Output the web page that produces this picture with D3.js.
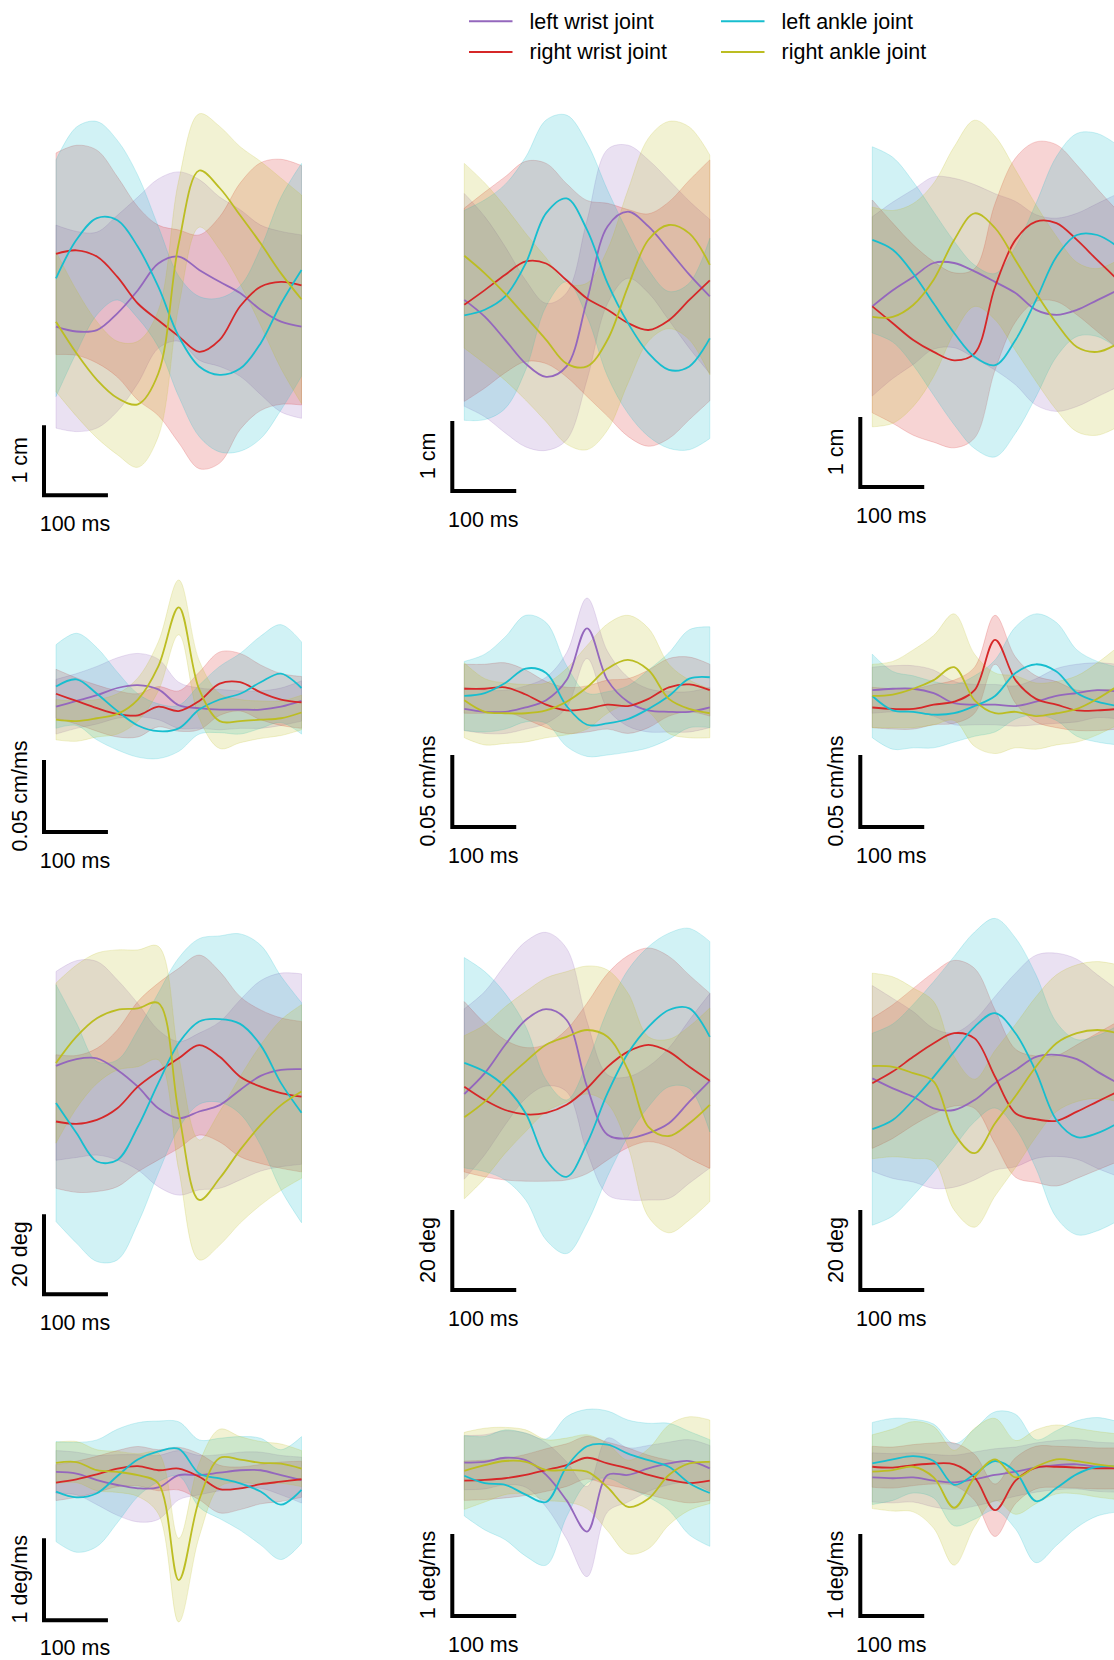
<!DOCTYPE html>
<html><head><meta charset="utf-8">
<script src="https://cdn.jsdelivr.net/npm/d3@7"></script>
<style>html,body{margin:0;padding:0;background:#fff;overflow:hidden}</style>
</head><body><svg id="c" width="1114" height="1660"></svg>
<script>
// ---------------- DATA ----------------
const timeMs = [0,32,64,96,128,160,192,224,256,288,320,352,384];
const joints = ["left wrist joint","right wrist joint","left ankle joint","right ankle joint"];
const barValues = [1, 0.05, 20, 1];
const barLabels = ["1 cm","0.05 cm/ms","20 deg","1 deg/ms"];
const timeBarMs = 100;
const timeBarLabel = "100 ms";

// Row 1: position (cm), means and SDs per joint [lw, rw, la, ra]
const posMeanA = [
  [2.41,2.34,2.36,2.60,2.93,3.31,3.41,3.22,3.05,2.89,2.65,2.48,2.41],
  [3.45,3.50,3.41,3.12,2.74,2.50,2.27,2.05,2.22,2.70,2.98,3.05,3.00],
  [3.10,3.65,3.96,3.93,3.55,2.98,2.27,1.84,1.72,1.81,2.17,2.74,3.22],
  [2.48,2.03,1.65,1.39,1.30,1.74,3.60,4.64,4.39,4.00,3.60,3.17,2.80]];
const posSdA = [
  [1.45,1.43,1.40,1.40,1.33,1.21,1.21,1.29,1.21,1.19,1.21,1.29,1.31],
  [1.44,1.50,1.52,1.43,1.38,1.36,1.52,1.67,1.76,1.76,1.77,1.75,1.71],
  [1.69,1.61,1.38,1.14,1.02,0.86,0.86,1.00,1.10,1.18,1.36,1.52,1.52],
  [1.00,0.90,0.83,0.81,0.90,0.90,0.90,0.81,0.88,0.98,1.17,1.36,1.49]];
const posMeanB = [
  [2.73,2.49,2.16,1.82,1.63,1.78,2.73,3.78,3.99,3.78,3.44,3.09,2.78],
  [2.66,2.87,3.09,3.28,3.25,3.01,2.75,2.59,2.40,2.30,2.44,2.73,3.01],
  [2.51,2.59,2.78,3.25,3.97,4.18,3.73,2.97,2.40,1.97,1.73,1.78,2.18],
  [3.36,3.11,2.82,2.49,2.16,1.82,1.78,2.16,2.92,3.59,3.80,3.68,3.23]];
const posSdB = [
  [1.52,1.43,1.33,1.19,1.05,1.05,1.14,1.10,0.95,0.95,1.00,1.05,1.10],
  [1.38,1.40,1.40,1.43,1.43,1.38,1.40,1.52,1.62,1.66,1.69,1.71,1.72],
  [1.50,1.57,1.60,1.52,1.33,1.19,1.24,1.33,1.29,1.19,1.12,1.19,1.43],
  [1.32,1.29,1.24,1.19,1.17,1.15,1.19,1.29,1.38,1.45,1.48,1.52,1.57]];
const posMeanC = [
  [2.58,2.81,3.00,3.20,3.20,3.08,2.93,2.77,2.53,2.46,2.53,2.67,2.81],
  [2.58,2.34,2.10,1.93,1.81,1.91,2.86,3.53,3.79,3.77,3.53,3.24,2.96],
  [3.53,3.39,3.05,2.62,2.20,1.86,1.74,2.10,2.67,3.29,3.60,3.60,3.43],
  [2.43,2.43,2.60,2.96,3.53,3.91,3.70,3.24,2.77,2.34,2.00,1.93,2.05]];
const posSdC = [
  [1.28,1.26,1.25,1.23,1.21,1.24,1.26,1.31,1.36,1.38,1.38,1.38,1.38],
  [1.52,1.43,1.36,1.29,1.25,1.21,1.19,1.17,1.14,1.12,1.07,1.02,0.98],
  [1.33,1.32,1.31,1.31,1.31,1.31,1.31,1.33,1.38,1.43,1.45,1.45,1.45],
  [1.57,1.52,1.45,1.38,1.33,1.33,1.31,1.29,1.26,1.24,1.21,1.19,1.19]];

// Row 2: velocity (cm/ms)
const velMeanA = [
  [0.087,0.091,0.095,0.100,0.102,0.099,0.088,0.086,0.085,0.085,0.085,0.087,0.091],
  [0.096,0.091,0.086,0.082,0.081,0.087,0.084,0.091,0.103,0.104,0.097,0.092,0.090],
  [0.101,0.106,0.096,0.084,0.074,0.070,0.072,0.085,0.092,0.096,0.104,0.110,0.100],
  [0.078,0.077,0.079,0.082,0.092,0.115,0.156,0.099,0.077,0.077,0.078,0.079,0.083]];
const velSdA = [
  [0.019,0.019,0.020,0.021,0.022,0.021,0.016,0.014,0.014,0.013,0.013,0.013,0.014],
  [0.017,0.016,0.016,0.016,0.015,0.014,0.014,0.020,0.022,0.020,0.019,0.018,0.018],
  [0.029,0.032,0.032,0.027,0.022,0.019,0.016,0.017,0.023,0.028,0.032,0.034,0.032],
  [0.014,0.014,0.013,0.014,0.015,0.017,0.019,0.020,0.019,0.015,0.013,0.012,0.012]];
const velMeanB = [
  [0.082,0.080,0.080,0.083,0.088,0.102,0.138,0.102,0.087,0.081,0.080,0.080,0.083],
  [0.096,0.096,0.097,0.092,0.085,0.081,0.082,0.085,0.084,0.089,0.097,0.099,0.095],
  [0.091,0.093,0.100,0.110,0.107,0.084,0.071,0.072,0.075,0.082,0.091,0.103,0.104],
  [0.088,0.080,0.079,0.079,0.081,0.087,0.097,0.110,0.116,0.109,0.089,0.082,0.079]];
const velSdB = [
  [0.015,0.015,0.015,0.015,0.016,0.019,0.021,0.020,0.017,0.015,0.014,0.014,0.014],
  [0.017,0.017,0.017,0.017,0.016,0.016,0.016,0.017,0.019,0.020,0.020,0.019,0.018],
  [0.024,0.027,0.032,0.037,0.035,0.028,0.022,0.022,0.023,0.027,0.030,0.034,0.035],
  [0.026,0.023,0.021,0.020,0.019,0.023,0.029,0.031,0.031,0.029,0.024,0.020,0.017]];
const velMeanC = [
  [0.095,0.096,0.096,0.093,0.086,0.085,0.085,0.084,0.087,0.091,0.093,0.095,0.094],
  [0.083,0.082,0.082,0.085,0.087,0.095,0.130,0.102,0.089,0.085,0.081,0.081,0.082],
  [0.091,0.081,0.080,0.078,0.079,0.084,0.091,0.107,0.113,0.108,0.093,0.087,0.084],
  [0.091,0.092,0.096,0.102,0.111,0.088,0.079,0.080,0.077,0.079,0.082,0.089,0.098]];
const velSdC = [
  [0.016,0.016,0.016,0.016,0.015,0.014,0.014,0.014,0.016,0.019,0.020,0.019,0.019],
  [0.014,0.014,0.014,0.014,0.015,0.016,0.017,0.016,0.016,0.016,0.014,0.014,0.014],
  [0.029,0.027,0.025,0.023,0.020,0.021,0.025,0.032,0.035,0.034,0.030,0.028,0.027],
  [0.022,0.023,0.027,0.031,0.037,0.032,0.028,0.025,0.023,0.022,0.023,0.025,0.027]];

// Row 3: joint angle (deg)
const angMeanA = [
  [57.1,58.8,59.0,56.1,51.9,46.5,44.0,45.7,47.3,51.1,54.6,56.1,56.3],
  [43.2,42.6,43.6,46.5,51.9,55.7,59.0,62.3,59.4,54.4,51.9,50.3,49.4],
  [47.8,40.3,33.2,33.6,41.9,52.8,62.8,68.2,68.8,67.6,62.3,52.8,45.4],
  [57.8,64.4,69.0,71.1,71.5,72.8,45.3,23.6,29.0,36.1,42.3,47.3,50.7]];
const angSdA = [
  [23.6,24.6,24.2,22.5,20.8,19.6,19.2,19.6,20.8,22.5,23.8,24.2,23.8],
  [16.7,17.1,17.9,19.6,21.3,22.1,22.5,22.5,21.3,20.0,19.2,18.8,18.8],
  [29.6,27.5,25.0,25.0,24.2,22.5,21.3,20.7,20.8,22.5,25.0,26.7,27.5],
  [20.0,17.9,16.3,15.0,14.6,14.2,14.2,15.0,16.7,18.3,20.0,21.3,21.7]];
const angMeanB = [
  [49.0,54.2,61.3,67.5,70.2,67.5,50.8,38.8,37.9,39.2,41.7,47.1,52.3],
  [50.8,47.5,45.0,43.9,44.3,46.3,50.4,55.8,59.6,61.3,59.6,55.8,52.3],
  [56.8,54.6,50.8,44.2,32.5,28.3,36.7,49.2,59.2,65.8,70.0,70.4,63.3],
  [43.2,47.1,52.5,57.1,61.3,63.3,65.0,63.3,55.0,40.8,38.5,41.7,46.3]];
const angSdB = [
  [21.3,20.4,20.0,19.6,19.2,17.9,16.3,15.0,15.4,16.7,18.8,20.4,21.8],
  [21.3,19.2,17.5,16.7,17.1,18.8,21.3,23.3,24.0,24.2,23.8,22.9,21.9],
  [26.3,25.0,23.3,21.7,20.0,19.2,20.0,20.8,20.8,20.0,19.2,20.0,23.8],
  [20.4,19.2,18.3,17.5,16.7,16.3,16.0,16.7,19.2,22.5,24.2,24.2,24.2]];
const angMeanC = [
  [52.9,50.4,48.3,45.4,45.0,47.5,51.7,55.0,58.3,58.8,57.7,54.6,51.7],
  [51.7,54.6,58.3,61.7,64.2,62.9,53.3,44.2,42.7,42.3,44.6,47.1,49.6],
  [40.2,42.5,47.5,53.3,59.6,65.8,69.2,64.2,54.6,42.5,38.2,39.2,41.7],
  [56.0,55.8,54.2,52.1,39.2,34.2,41.7,48.5,55.8,61.7,64.2,65.0,64.2]];
const angSdC = [
  [23.2,22.5,21.3,20.0,19.3,20.0,21.7,24.2,25.4,25.4,25.0,24.2,23.3],
  [16.3,16.7,17.1,17.7,18.2,17.5,16.7,16.0,15.8,16.3,16.7,17.1,17.5],
  [24.0,24.0,23.9,23.8,23.8,23.7,23.7,23.8,24.2,24.4,24.4,24.4,24.4],
  [23.2,22.5,21.3,20.0,19.2,18.5,18.2,17.9,17.5,17.1,17.1,17.1,17.1]];

// Row 4: angular velocity (deg/ms)
const angVelMeanA = [
  [1.81,1.79,1.71,1.65,1.61,1.62,1.77,1.77,1.80,1.83,1.83,1.77,1.71],
  [1.68,1.72,1.78,1.85,1.88,1.83,1.85,1.75,1.60,1.61,1.66,1.69,1.72],
  [1.57,1.50,1.55,1.76,1.96,2.06,2.09,1.79,1.73,1.67,1.57,1.41,1.59],
  [1.92,1.93,1.83,1.81,1.77,1.67,0.49,1.47,1.98,1.96,1.92,1.91,1.85]];
const angVelSdA = [
  [0.26,0.26,0.30,0.37,0.41,0.39,0.30,0.24,0.22,0.22,0.22,0.24,0.28],
  [0.22,0.22,0.22,0.22,0.24,0.25,0.26,0.28,0.29,0.26,0.24,0.24,0.22],
  [0.61,0.67,0.65,0.57,0.45,0.37,0.33,0.41,0.49,0.57,0.65,0.67,0.65],
  [0.25,0.25,0.25,0.25,0.26,0.37,0.51,0.45,0.35,0.28,0.26,0.24,0.22]];
const angVelMeanB = [
  [1.87,1.88,1.93,1.90,1.72,1.41,1.03,1.72,1.72,1.80,1.86,1.89,1.80],
  [1.65,1.66,1.68,1.72,1.78,1.84,1.93,1.86,1.80,1.72,1.66,1.62,1.65],
  [1.71,1.62,1.60,1.48,1.39,1.82,2.07,2.09,1.98,1.90,1.82,1.62,1.50],
  [1.77,1.84,1.89,1.88,1.78,1.78,1.76,1.57,1.33,1.43,1.72,1.86,1.88]];
const angVelSdB = [
  [0.33,0.33,0.33,0.33,0.39,0.47,0.55,0.45,0.33,0.28,0.26,0.26,0.28],
  [0.24,0.24,0.24,0.25,0.26,0.26,0.26,0.26,0.25,0.24,0.24,0.24,0.24],
  [0.49,0.57,0.67,0.75,0.77,0.61,0.45,0.41,0.41,0.45,0.53,0.63,0.65],
  [0.47,0.45,0.41,0.39,0.37,0.39,0.45,0.53,0.57,0.61,0.61,0.57,0.51]];
const angVelMeanC = [
  [1.69,1.68,1.69,1.65,1.63,1.67,1.72,1.76,1.81,1.84,1.85,1.82,1.81],
  [1.82,1.81,1.84,1.86,1.85,1.69,1.29,1.65,1.81,1.82,1.81,1.80,1.80],
  [1.86,1.91,1.95,1.89,1.60,1.73,1.89,1.76,1.40,1.56,1.73,1.82,1.82],
  [1.76,1.78,1.82,1.69,1.32,1.69,1.91,1.69,1.82,1.91,1.89,1.85,1.82]];
const angVelSdC = [
  [0.30,0.30,0.30,0.32,0.33,0.33,0.32,0.30,0.30,0.30,0.30,0.30,0.30],
  [0.25,0.25,0.25,0.25,0.26,0.28,0.32,0.28,0.26,0.25,0.25,0.25,0.25],
  [0.50,0.50,0.45,0.45,0.50,0.55,0.60,0.70,0.75,0.70,0.65,0.60,0.55],
  [0.45,0.50,0.55,0.62,0.70,0.60,0.50,0.45,0.45,0.42,0.40,0.40,0.40]];

// ---------------- LAYOUT / STYLE ----------------
const colors = ["#9467bd","#d62728","#17becf","#bcbd22"];
const colLeft = [56, 464.3, 872.3];
const panelW = 245.5;
const rowZero = [[495.3,491,487],[832,827,827],[1294.3,1290,1290],[1620.3,1616,1616]];
const rowPx = [70, 1440, 4, 82]; // pixels per data unit
const FONT = "'Liberation Sans', Arial, Helvetica, sans-serif";
const FS = 21.5;

const panels = [
  [[posMeanA,posSdA],[posMeanB,posSdB],[posMeanC,posSdC]],
  [[velMeanA,velSdA],[velMeanB,velSdB],[velMeanC,velSdC]],
  [[angMeanA,angSdA],[angMeanB,angSdB],[angMeanC,angSdC]],
  [[angVelMeanA,angVelSdA],[angVelMeanB,angVelSdB],[angVelMeanC,angVelSdC]]
];

const svg = d3.select("#c");
const curve = d3.curveCatmullRom.alpha(0.5);

panels.forEach((row, r) => {
  row.forEach(([means, sds], c) => {
    const x = d3.scaleLinear().domain([0, 384]).range([colLeft[c], colLeft[c] + panelW]);
    const y0 = rowZero[r][c];
    const y = d3.scaleLinear().domain([0, 1]).range([y0, y0 - rowPx[r]]);
    const g = svg.append("g");
    const area = (m, s) => d3.area()
      .x((d, i) => x(timeMs[i]))
      .y0((d, i) => y(m[i] - s[i]))
      .y1((d, i) => y(m[i] + s[i]))
      .curve(curve)(m);
    const line = (m) => d3.line().x((d, i) => x(timeMs[i])).y(d => y(d)).curve(curve)(m);
    means.forEach((m, k) => {
      g.append("path").attr("d", area(m, sds[k]))
        .attr("fill", colors[k]).attr("fill-opacity", 0.2)
        .attr("stroke", colors[k]).attr("stroke-opacity", 0.2).attr("stroke-width", 1);
    });
    means.forEach((m, k) => {
      g.append("path").attr("d", line(m)).attr("fill", "none")
        .attr("stroke", colors[k]).attr("stroke-width", 1.8);
    });
    // scale bar
    const bx = colLeft[c] - 12;
    const tLen = x(timeBarMs) - x(0);
    const yTop = y(barValues[r]);
    g.append("path")
      .attr("d", `M${bx},${yTop}L${bx},${y0}L${bx + tLen},${y0}`)
      .attr("fill", "none").attr("stroke", "#000").attr("stroke-width", 4)
      .attr("stroke-linejoin", "miter").attr("stroke-linecap", "butt");
    g.append("text")
      .attr("transform", `translate(${bx - 17},${(yTop + y0) / 2}) rotate(-90)`)
      .attr("text-anchor", "middle").attr("font-family", FONT).attr("font-size", FS)
      .text(barLabels[r]);
    g.append("text")
      .attr("x", bx + tLen / 2 - 1).attr("y", Math.min(y0 + 36, 1655))
      .attr("text-anchor", "middle").attr("font-family", FONT).attr("font-size", FS)
      .text(timeBarLabel);
  });
});

// legend
const legPos = [[469, 21.2], [469, 51.9], [721, 21.2], [721, 51.9]];
joints.forEach((name, k) => {
  const [lx, ly] = legPos[k];
  svg.append("line").attr("x1", lx).attr("x2", lx + 43.5).attr("y1", ly).attr("y2", ly)
    .attr("stroke", colors[k]).attr("stroke-width", 2);
  svg.append("text").attr("x", lx + 60.5).attr("y", ly).attr("dy", "0.35em")
    .attr("font-family", FONT).attr("font-size", FS).text(name);
});
</script></body></html>
